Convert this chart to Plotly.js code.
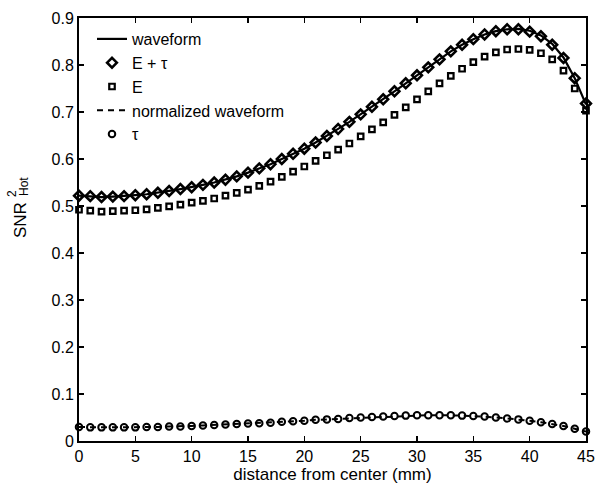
<!DOCTYPE html>
<html><head><meta charset="utf-8">
<script src="https://cdn.plot.ly/plotly-3.0.1.min.js"></script>
<style>html,body{margin:0;padding:0;background:#fff}#chart{width:600px;height:484px}</style>
</head><body><div id="chart"></div>
<script>
var distance = [0,1,2,3,4,5,6,7,8,9,10,11,12,13,14,15,16,17,18,19,20,21,22,23,24,25,26,27,28,29,30,31,32,33,34,35,36,37,38,39,40,41,42,43,44,45];
var waveform = [0.522,0.521,0.519,0.520,0.521,0.523,0.525,0.528,0.532,0.536,0.540,0.545,0.550,0.556,0.563,0.571,0.580,0.589,0.600,0.611,0.622,0.635,0.649,0.664,0.679,0.695,0.711,0.727,0.744,0.761,0.778,0.795,0.812,0.829,0.843,0.855,0.865,0.872,0.876,0.877,0.873,0.863,0.845,0.816,0.772,0.716];
var ePlusTau = [0.522,0.521,0.519,0.520,0.521,0.523,0.525,0.528,0.532,0.536,0.540,0.545,0.550,0.556,0.563,0.571,0.580,0.589,0.600,0.611,0.622,0.635,0.649,0.664,0.679,0.695,0.711,0.727,0.744,0.761,0.778,0.795,0.812,0.829,0.843,0.855,0.865,0.872,0.876,0.876,0.871,0.861,0.843,0.815,0.772,0.718];
var eOnly = [0.492,0.490,0.488,0.489,0.490,0.491,0.493,0.496,0.499,0.503,0.507,0.511,0.516,0.522,0.528,0.535,0.543,0.552,0.562,0.573,0.584,0.596,0.608,0.620,0.633,0.648,0.663,0.678,0.694,0.710,0.727,0.744,0.761,0.777,0.792,0.806,0.818,0.827,0.833,0.834,0.832,0.825,0.812,0.788,0.750,0.703];
var normWaveform = [0.030,0.029,0.029,0.029,0.029,0.029,0.030,0.030,0.031,0.031,0.032,0.033,0.034,0.035,0.036,0.037,0.038,0.039,0.041,0.042,0.043,0.045,0.046,0.047,0.049,0.050,0.051,0.052,0.053,0.054,0.055,0.055,0.055,0.055,0.054,0.053,0.052,0.050,0.048,0.046,0.043,0.040,0.036,0.032,0.026,0.020];
var tauOnly = [0.030,0.029,0.029,0.029,0.029,0.029,0.030,0.030,0.031,0.031,0.032,0.033,0.034,0.035,0.036,0.037,0.038,0.039,0.041,0.042,0.043,0.045,0.046,0.047,0.049,0.050,0.051,0.052,0.053,0.054,0.055,0.055,0.055,0.055,0.054,0.053,0.052,0.050,0.048,0.046,0.043,0.040,0.036,0.032,0.026,0.020];
var xTicks = [0,5,10,15,20,25,30,35,40,45];
var yTicks = [0,0.1,0.2,0.3,0.4,0.5,0.6,0.7,0.8,0.9];
var yTickText = ['0','0.1','0.2','0.3','0.4','0.5','0.6','0.7','0.8','0.9'];

var FONT = 'Liberation Sans, Arial, sans-serif';
var traces = [
  {x: distance, y: waveform, name: 'waveform', mode: 'lines', line: {color: '#000', width: 2.2}, cliponaxis: false},
  {x: distance, y: ePlusTau, name: 'E + \u03c4', mode: 'markers', marker: {symbol: 'diamond-open', size: 7.5, color: '#000', line: {width: 2.6, color: '#000'}}, cliponaxis: false},
  {x: distance, y: eOnly, name: 'E', mode: 'markers', marker: {symbol: 'square-open', size: 5.5, color: '#000', line: {width: 2.2, color: '#000'}}, cliponaxis: false},
  {x: distance, y: normWaveform, name: 'normalized waveform', mode: 'lines', line: {color: '#000', width: 2, dash: '6px,5px'}, cliponaxis: false},
  {x: distance, y: tauOnly, name: '\u03c4', mode: 'markers', marker: {symbol: 'circle-open', size: 6.5, color: '#000', line: {width: 2, color: '#000'}}, cliponaxis: false}
];

var PL = 79, PR = 586, PT = 18, PB = 441;
function px2x(px){ return (px - PL) / (PR - PL); }
function px2y(py){ return (PB - py) / (PB - PT); }

var layout = {
  width: 600, height: 484,
  margin: {l: PL, r: 600 - PR, t: PT, b: 484 - PB},
  paper_bgcolor: '#fff', plot_bgcolor: '#fff',
  font: {family: FONT, color: '#000', size: 16},
  showlegend: true,
  legend: {x: px2x(92), y: px2y(22), xanchor: 'left', yanchor: 'top', bgcolor: 'rgba(0,0,0,0)', borderwidth: 0, font: {family: FONT, size: 16, color: '#000'}, tracegroupgap: 0, itemwidth: 30},
  xaxis: {range: [0, 45], tickmode: 'array', tickvals: xTicks, ticks: 'inside', ticklen: 5, tickwidth: 1.5, tickcolor: '#000',
          showline: true, linewidth: 2, linecolor: '#000', mirror: 'ticks', showgrid: false, zeroline: false,
          tickfont: {family: FONT, size: 16}, title: {text: 'distance from center (mm)', font: {family: FONT, size: 17}, standoff: 1}},
  yaxis: {range: [0, 0.9], tickmode: 'array', tickvals: yTicks, ticktext: yTickText, ticks: 'inside', ticklen: 5, tickwidth: 1.5, tickcolor: '#000',
          showline: true, linewidth: 2, linecolor: '#000', mirror: 'ticks', showgrid: false, zeroline: false,
          tickfont: {family: FONT, size: 16}},
  annotations: [
    {xref: 'paper', yref: 'paper', x: px2x(20), y: px2y(220), text: 'SNR', textangle: -90, showarrow: false, font: {family: FONT, size: 17}, xanchor: 'center', yanchor: 'middle'},
    {xref: 'paper', yref: 'paper', x: px2x(12), y: px2y(194), text: '2', textangle: -90, showarrow: false, font: {family: FONT, size: 12}, xanchor: 'center', yanchor: 'middle'},
    {xref: 'paper', yref: 'paper', x: px2x(24), y: px2y(187), text: 'Hot', textangle: -90, showarrow: false, font: {family: FONT, size: 12}, xanchor: 'center', yanchor: 'middle'}
  ]
};
Plotly.newPlot('chart', traces, layout, {displayModeBar: false, staticPlot: true});
</script></body></html>
